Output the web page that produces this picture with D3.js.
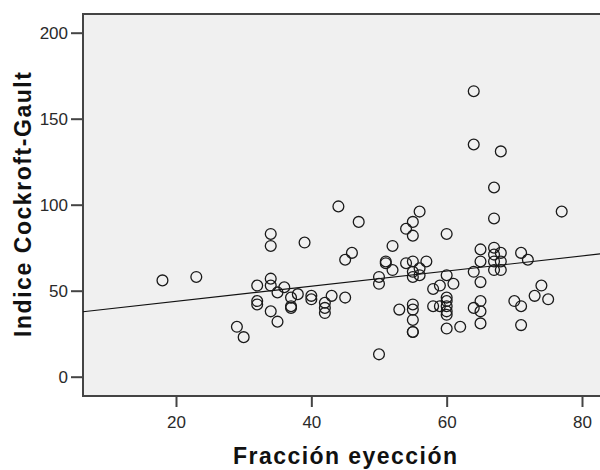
<!DOCTYPE html>
<html><head><meta charset="utf-8">
<script src="https://cdn.jsdelivr.net/npm/d3@7"></script>
<style>body{margin:0;background:#fff}</style>
</head><body><svg id="c" width="600" height="470"></svg>
<script>
// Data
const fraccion = [18,23,29,30,32,32,32,34,34,34,34,34,35,35,36,37,37,37,38,39,40,40,42,42,42,43,44,45,45,46,47,
  50,50,50,51,51,52,52,53,54,54,55,55,55,55,55,55,55,55,55,55,56,56,56,57,58,58,59,59,
  60,60,60,60,60,60,60,60,61,62,64,64,64,64,65,65,65,65,65,65,67,67,67,67,67,67,68,68,68,68,
  70,71,71,71,72,73,74,75,77];
const cockroft = [56,58,29,23,53,44,42,83,76,57,53,38,49,32,52,46,41,40,48,78,47,45,43,40,37,47,99,68,46,72,90,
  58,54,13,67,66,76,62,39,86,66,90,82,67,61,58,42,39,33,26,26,96,63,59,67,51,41,53,41,
  83,59,46,44,41,38,36,28,54,29,166,135,61,40,74,67,55,44,38,31,110,92,75,71,67,62,131,72,67,62,
  44,72,41,30,68,47,53,45,96];
const xTicks = [20,40,60,80];
const yTicks = [0,50,100,150,200];
const fitIntercept = 35.0, fitSlope = 0.44;
const xTitle = "Fracción eyección";
const yTitle = "Indice Cockroft-Gault";

const svg = d3.select("#c");
const x = d3.scaleLinear().domain([20,80]).range([176,582]);
const y = d3.scaleLinear().domain([0,200]).range([376.7,32.7]);
const L = 83, T = 14, B = 396, R = 640;

svg.append("rect").attr("x",L).attr("y",T).attr("width",R-L).attr("height",B-T)
  .attr("fill","#f0f0f0").attr("stroke","#444").attr("stroke-width",2);

// regression line
const x0 = x.invert(L), x1 = x.invert(R);
svg.append("line")
  .attr("x1",x(x0)).attr("y1",y(fitIntercept+fitSlope*x0))
  .attr("x2",x(x1)).attr("y2",y(fitIntercept+fitSlope*x1))
  .attr("stroke","#111").attr("stroke-width",1.2);

// points
svg.append("g").selectAll("circle").data(fraccion.map((d,i)=>[d,cockroft[i]])).join("circle")
  .attr("cx",d=>x(d[0])).attr("cy",d=>y(d[1])).attr("r",5.4)
  .attr("fill","none").attr("stroke","#1a1a1a").attr("stroke-width",1.3);

// axes
const font = "'Liberation Sans', Arial, sans-serif";
const xa = svg.append("g").attr("transform",`translate(0,${B})`)
  .call(d3.axisBottom(x).tickValues(xTicks).tickSize(11).tickPadding(9).tickFormat(d3.format("d")));
const ya = svg.append("g").attr("transform",`translate(${L},0)`)
  .call(d3.axisLeft(y).tickValues(yTicks).tickSize(12).tickPadding(3).tickFormat(d3.format("d")));
[xa,ya].forEach(a=>{
  a.select(".domain").remove();
  a.selectAll("line").attr("stroke","#444").attr("stroke-width",2);
  a.selectAll("text").attr("fill","#2a2a2a").style("font-family",font).style("font-size","17px");
});

svg.append("text").attr("x",345).attr("y",464).attr("text-anchor","middle")
  .style("font-family",font).style("font-size","23px").style("font-weight","bold").attr("fill","#111")
  .attr("textLength",224).attr("lengthAdjust","spacing").text(xTitle);
svg.append("text").attr("transform","translate(31,204.5) rotate(-90)").attr("text-anchor","middle")
  .style("font-family",font).style("font-size","23px").style("font-weight","bold").attr("fill","#111")
  .attr("textLength",265).attr("lengthAdjust","spacing").text(yTitle);
</script></body></html>
